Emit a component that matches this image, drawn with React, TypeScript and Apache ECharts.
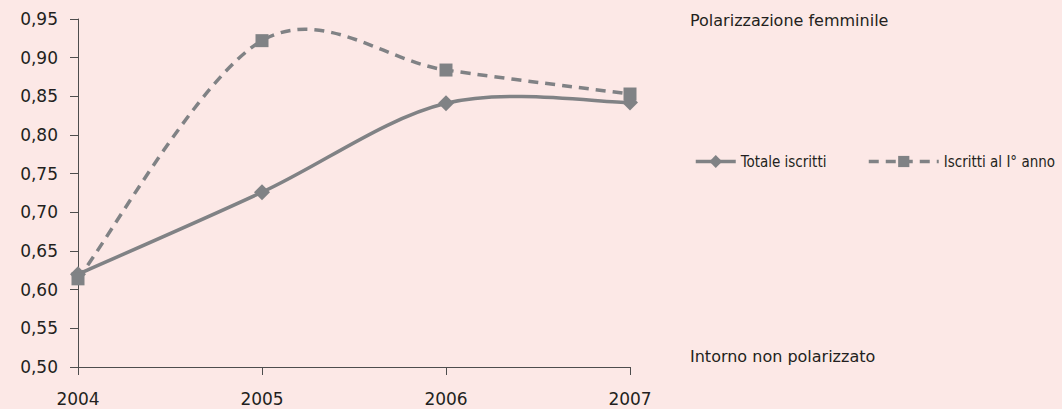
import React, { useEffect, useRef } from "react";
import * as echarts from "echarts";

const years = ["2004", "2005", "2006", "2007"];
const totaleIscritti = [0.62, 0.726, 0.841, 0.842];
const iscrittiPrimoAnno = [0.614, 0.922, 0.884, 0.853];
const seriesNames = ["Totale iscritti", "Iscritti al I° anno"];
const topNote = "Polarizzazione femminile";
const bottomNote = "Intorno non polarizzato";

const GRAY = "#808285";
const TEXT = "#231f20";
const BG = "#fce8e6";
const DASH = [10, 7];

// Catmull-Rom style smoothing (like spreadsheet smoothed lines), computed in pixel space
function smoothPath(values: number[], api: any): string {
  const pts = values.map((v, i) => api.coord([i, v]) as number[]);
  const n = pts.length;
  let d = `M${pts[0][0]},${pts[0][1]}`;
  for (let i = 0; i < n - 1; i++) {
    const p0 = pts[Math.max(0, i - 1)];
    const p1 = pts[i];
    const p2 = pts[i + 1];
    const p3 = pts[Math.min(n - 1, i + 2)];
    const c1x = p1[0] + (p2[0] - p0[0]) / 6;
    const c1y = p1[1] + (p2[1] - p0[1]) / 6;
    const c2x = p2[0] - (p3[0] - p1[0]) / 6;
    const c2y = p2[1] - (p3[1] - p1[1]) / 6;
    d += ` C${c1x},${c1y} ${c2x},${c2y} ${p2[0]},${p2[1]}`;
  }
  return d;
}

function curveSeries(name: string, values: number[], dashed: boolean) {
  return {
    name,
    type: "custom",
    coordinateSystem: "cartesian2d",
    z: 1,
    silent: true,
    data: values.map((v, i) => [i, v]),
    renderItem: (params: any, api: any) => {
      if (params.dataIndex !== 0) return null;
      return {
        type: "path",
        shape: { pathData: smoothPath(values, api) },
        style: {
          fill: "none",
          stroke: GRAY,
          lineWidth: 3.5,
          lineDash: dashed ? DASH : null,
        },
      };
    },
  };
}

export default function App() {
  const ref = useRef<HTMLDivElement>(null);
  useEffect(() => {
    document.body.style.margin = "0";
    const chart = echarts.init(ref.current!, null, { renderer: "svg" });
    const narrow = "'Liberation Sans Narrow', 'DejaVu Sans Condensed', 'Roboto Condensed', sans-serif";
    chart.setOption({
      animation: false,
      backgroundColor: BG,
      grid: { left: 78, right: 432, top: 19, bottom: 42, containLabel: false },
      xAxis: {
        type: "category",
        data: years,
        boundaryGap: false,
        axisLine: { lineStyle: { color: "#4d4d4d", width: 1 } },
        axisTick: { show: true, length: 8, alignWithLabel: true, lineStyle: { color: "#4d4d4d" } },
        axisLabel: { color: TEXT, fontSize: 17, fontFamily: "DejaVu Sans", margin: 23 },
        splitLine: { show: false },
      },
      yAxis: {
        type: "value",
        min: 0.5,
        max: 0.95,
        interval: 0.05,
        axisLine: { show: true, lineStyle: { color: "#4d4d4d", width: 1 } },
        axisTick: { show: true, length: 8, lineStyle: { color: "#4d4d4d" } },
        axisLabel: {
          color: TEXT,
          fontSize: 17,
          fontFamily: "DejaVu Sans",
          margin: 20,
          formatter: (v: number) => v.toFixed(2).replace(".", ","),
        },
        splitLine: { show: false },
      },
      legend: [
        {
          data: [seriesNames[0]],
          left: 689,
          top: 149,
          itemWidth: 40,
          itemHeight: 16,
          textStyle: { color: TEXT, fontSize: 15, fontFamily: narrow },
          lineStyle: { color: GRAY, width: 3.5, opacity: 1, type: "solid" },
        },
        {
          data: [seriesNames[1]],
          left: 862,
          top: 149,
          itemWidth: 70,
          itemHeight: 14,
          textStyle: { color: TEXT, fontSize: 15, fontFamily: narrow },
          lineStyle: { color: GRAY, width: 3.5, opacity: 1, type: DASH },
        },
      ],
      graphic: [
        {
          type: "text",
          left: 690,
          top: 12,
          style: { text: topNote, fill: TEXT, fontSize: 16, fontFamily: "DejaVu Sans" },
        },
        {
          type: "text",
          left: 690,
          top: 348,
          style: { text: bottomNote, fill: TEXT, fontSize: 16, fontFamily: "DejaVu Sans" },
        },
      ],
      series: [
        curveSeries("curve-totale", totaleIscritti, false),
        curveSeries("curve-primo", iscrittiPrimoAnno, true),
        {
          name: seriesNames[0],
          type: "line",
          data: totaleIscritti,
          z: 3,
          symbol: "diamond",
          symbolSize: 16,
          itemStyle: { color: GRAY },
          lineStyle: { color: GRAY, width: 3.5, opacity: 0 },
        },
        {
          name: seriesNames[1],
          type: "line",
          data: iscrittiPrimoAnno,
          z: 3,
          symbol: "rect",
          symbolSize: 13,
          itemStyle: { color: GRAY },
          lineStyle: { color: GRAY, width: 3.5, type: DASH, opacity: 0 },
        },
      ],
    });
    return () => chart.dispose();
  }, []);
  return <div ref={ref} style={{ width: 1062, height: 409 }} />;
}
